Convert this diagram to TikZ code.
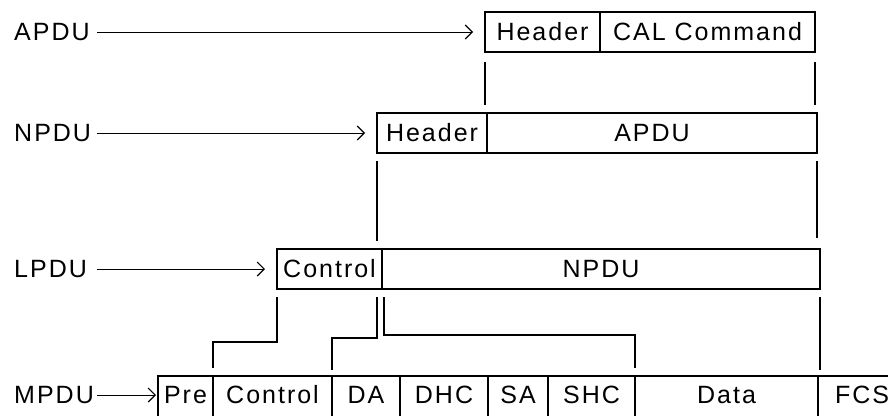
\documentclass[tikz,border=0pt]{standalone}
\usepackage{fontspec}
\setmainfont{Liberation Sans}[LetterSpace=8]
\usepackage{tikz}
\usetikzlibrary{positioning,arrows.meta}
\tikzset{field/.style={draw, line width=1.3pt, minimum height=40pt,
  inner sep=0pt, outer sep=0pt, text height=17.5pt, text depth=0pt},
mac/.style={minimum height=42pt, text depth=4pt},
pdu/.style={anchor=west, inner sep=0pt, text width=83pt, align=left,
  text height=17.5pt, text depth=0pt},
feed/.style={line width=0.9pt,
  -{Straight Barb[length=7pt,width=14pt,line width=1.1pt]}, shorten >=12pt},
link/.style={line width=1.3pt, shorten <=8pt, shorten >=8pt}
}

\begin{document}
\begin{tikzpicture}[x=1pt, y=-1pt, font=\fontsize{25}{29}\selectfont]
  \useasboundingbox (0,0) rectangle (888,415);
  \clip (0,0) rectangle (888,415);

  % layer names
  \node[pdu] (apdu) at (14,32)  {APDU};
  \node[pdu] (npdu) at (14,133) {NPDU};
  \node[pdu] (lpdu) at (14,269) {LPDU};
  \node[pdu] (mpdu) at (14,395) {MPDU};

  % application layer
  \node[field, minimum width=115pt, anchor=north west] (a_hdr) at (485,12) {Header};
  \node[field, minimum width=215pt, right=0pt of a_hdr] (a_cal) {CAL Command};

  % network layer
  \node[field, minimum width=110pt, anchor=north west] (n_hdr) at (377,113) {Header};
  \node[field, minimum width=330pt, right=0pt of n_hdr] (n_apdu) {APDU};

  % link layer
  \node[field, minimum width=105pt, anchor=north west] (l_ctl) at (277,249) {Control};
  \node[field, minimum width=438pt, right=0pt of l_ctl] (l_npdu) {NPDU};

  % MAC frame
  \node[field, mac, minimum width=55pt, anchor=north west] (m_pre) at (158,376) {Pre};
  \node[field, mac, minimum width=119pt, right=0pt of m_pre] (m_ctl)  {Control};
  \node[field, mac, minimum width=68pt,  right=0pt of m_ctl] (m_da)   {DA};
  \node[field, mac, minimum width=88pt,  right=0pt of m_da]  (m_dhc)  {DHC};
  \node[field, mac, minimum width=60pt,  right=0pt of m_dhc] (m_sa)   {SA};
  \node[field, mac, minimum width=87pt,  right=0pt of m_sa]  (m_shc)  {SHC};
  \node[field, mac, minimum width=183pt, right=0pt of m_shc] (m_data) {Data};
  \node[field, mac, minimum width=88pt,  right=0pt of m_data] (m_fcs) {FCS};

  % arrows from the names
  \draw[feed] (apdu) -- (a_hdr);
  \draw[feed] (npdu) -- (n_hdr);
  \draw[feed] (lpdu) -- (l_ctl);
  \draw[feed, shorten >=2pt] (mpdu) -- (mpdu -| m_pre.west);

  % encapsulation lines
  \draw[link, shorten <=10pt] (a_hdr.south west) -- (a_hdr.south west |- n_hdr.north);
  \draw[link, shorten <=10pt] (a_cal.south east) -- (a_cal.south east |- n_apdu.north);
  \draw[link] (n_hdr.south west) -- (n_hdr.south west |- l_ctl.north);
  \draw[link, shorten >=11pt] (n_apdu.south east) -- (n_apdu.south east |- l_npdu.north);
  \draw[link] (l_ctl.south west) -- ++(0,53) -| (m_ctl.north west);
  \draw[link, shorten >=6pt] ([xshift=-5pt]l_ctl.south east) -- ++(0,49) -| (m_da.north west);
  \draw[link] ([xshift=2pt]l_ctl.south east) -- ++(0,46) -| (m_shc.north east);
  \draw[link, shorten >=6pt] (l_npdu.south east) -- (l_npdu.south east |- m_data.north);
\end{tikzpicture}
\end{document}
